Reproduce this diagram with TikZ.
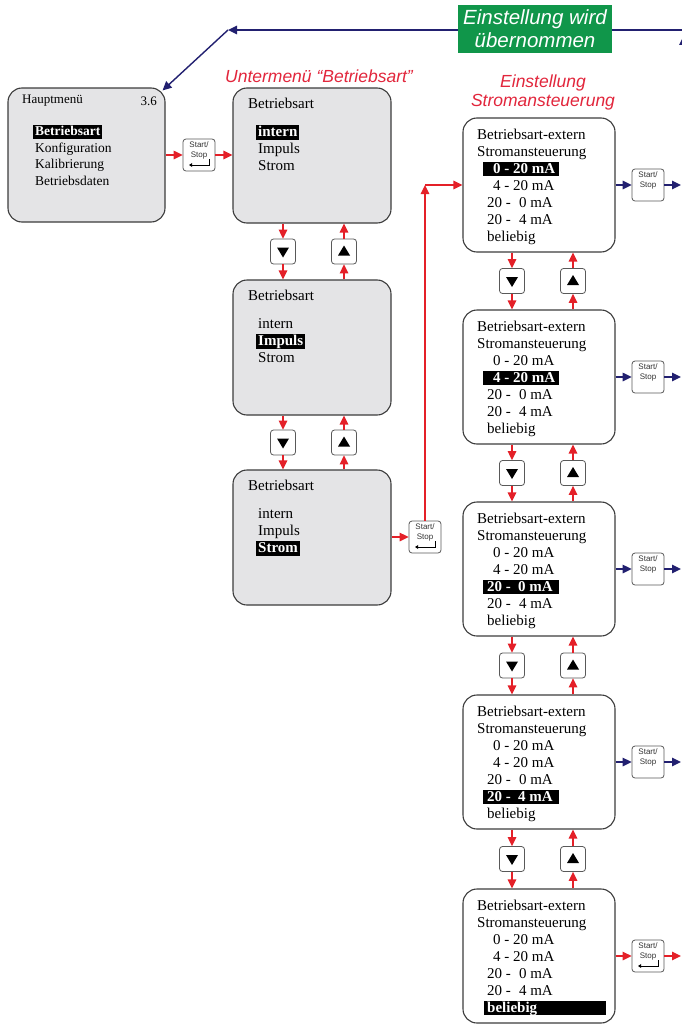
\documentclass[tikz,border=0pt]{standalone}
\usepackage{fontspec}
\setmainfont{Liberation Serif}
\setsansfont{Liberation Sans}
\usetikzlibrary{arrows.meta}

\definecolor{arrowred}{RGB}{228,32,40}
\definecolor{headred}{RGB}{226,38,60}
\definecolor{navyline}{RGB}{34,32,112}
\definecolor{bannergreen}{RGB}{16,150,74}
\definecolor{boxgray}{RGB}{228,228,230}
\definecolor{framegray}{RGB}{60,60,60}

\tikzset{
  menubox/.style={draw=framegray, line width=1.1pt, rounded corners=14pt,
    fill=boxgray, minimum width=158pt, minimum height=135pt, inner sep=0pt},
  setbox/.style={menubox, fill=white, minimum width=152pt, minimum height=134pt},
  basetxt/.style={anchor=west, inner sep=0pt},
  btxt/.style={basetxt, text height=11.5pt, text depth=3.5pt, font=\fontsize{15}{17}\selectfont},
  bsel/.style={btxt, fill=black, text=white, font=\fontsize{15}{17}\selectfont\bfseries, inner xsep=2pt},
  rsel/.style={btxt, text=white, font=\fontsize{15}{17}\selectfont\bfseries},
  hlbar/.style={fill=black, inner sep=0pt, minimum height=14.5pt},
  htxt/.style={basetxt, text height=10.5pt, text depth=3pt, font=\fontsize{13.5}{16}\selectfont},
  hsel/.style={htxt, fill=black, text=white, font=\fontsize{13.5}{16}\selectfont\bfseries, inner xsep=2pt},
  heading/.style={font=\sffamily\itshape\fontsize{17.5}{18.5}\selectfont, text=headred, align=center, inner sep=0pt},
  banner/.style={fill=bannergreen, text=white, font=\sffamily\itshape\fontsize{20.5}{23}\selectfont,
    align=center, minimum width=154pt, minimum height=48pt, inner sep=0pt},
  key/.style={draw=framegray!85, line width=0.8pt, rounded corners=3pt, fill=white,
    minimum width=32pt, minimum height=32pt, inner sep=0pt},
  keylabel/.style={font=\sffamily\fontsize{8}{10}\selectfont, text=black!80, align=center, inner sep=0pt},
  enterkey/.style={key, path picture={
      \draw[black, sharp corners, line width=0.9pt, -{Triangle[length=3.2pt,width=3.8pt]}]
        ([xshift=10pt,yshift=-4pt]path picture bounding box.center)
        -- ([xshift=10pt,yshift=-10pt]path picture bounding box.center)
        -- ([xshift=-10pt,yshift=-10pt]path picture bounding box.center);}},
  arrowkey/.style={key, minimum width=25pt, minimum height=25pt},
  downkey/.style={arrowkey, path picture={
      \fill[black, sharp corners] ([xshift=-6pt,yshift=4pt]path picture bounding box.center)
        -- ([xshift=6pt,yshift=4pt]path picture bounding box.center)
        -- ([yshift=-6pt]path picture bounding box.center) -- cycle;}},
  upkey/.style={arrowkey, path picture={
      \fill[black, sharp corners] ([xshift=-6pt,yshift=-4pt]path picture bounding box.center)
        -- ([xshift=6pt,yshift=-4pt]path picture bounding box.center)
        -- ([yshift=6pt]path picture bounding box.center) -- cycle;}},
  redarr/.style={draw=arrowred, line width=1.4pt, -{Triangle[length=9pt,width=8.5pt]}},
  navyarr/.style={draw=navyline, line width=1.4pt, -{Triangle[length=9pt,width=8.5pt]}},
}

\begin{document}
\begin{tikzpicture}[x=1pt, y=-1pt]
\path[use as bounding box, fill=white] (0,0) rectangle (681,1025);

% ---------- main menu ----------
\node[menubox, minimum width=157pt, minimum height=134pt] (h) at (86.5,155) {};
\node[basetxt, font=\fontsize{13}{15}\selectfont] (h-title) at (22,101) {Hauptmenü};
\node[basetxt, anchor=east, font=\fontsize{13}{15}\selectfont] (h-ver) at (157,101) {3.6};
\node[hsel] (h-a) at (33,132) {Betriebsart};
\node[htxt] (h-b) at (35,148.5) {Konfiguration};
\node[htxt] (h-c) at (35,165) {Kalibrierung};
\node[htxt] (h-d) at (35,181.5) {Betriebsdaten};

\node[enterkey] (s0) at (199,155) {};
\node[keylabel] (s0-l) at ([yshift=4.5pt]s0.center) {Start/\\Stop};

% ---------- submenu "Betriebsart" ----------
\node[heading] (head-b) at (319,76) {Untermenü “Betriebsart”};
\foreach \k/\ty in {1/88,2/280,3/470}{
  \tikzset{pick1/.style={btxt},pick2/.style={btxt},pick3/.style={btxt},
           pick\k/.style={bsel, xshift=-2pt}}
  \node[menubox] (b\k) at (312,\ty+67.5) {};
  \node[btxt] (b\k-head) at (248,\ty+16.5) {Betriebsart};
  \node[pick1] (b\k-a) at (258,\ty+44) {intern};
  \node[pick2] (b\k-b) at (258,\ty+61) {Impuls};
  \node[pick3] (b\k-c) at (258,\ty+78) {Strom};
}
\node[downkey] (d1) at (283,251.5) {};
\node[upkey]   (u1) at (344,251.5) {};
\node[downkey] (d2) at (283,442.5) {};
\node[upkey]   (u2) at (344,442.5) {};

\node[enterkey] (sb) at (425,537) {};
\node[keylabel] (sb-l) at ([yshift=4.5pt]sb.center) {Start/\\Stop};

% ---------- current control settings ----------
\node[heading] (head-r) at (543,92.5) {Einstellung\\Stromansteuerung};
\foreach \k/\ty in {1/118,2/310,3/502,4/695,5/889}{
  \tikzset{sel1/.style={btxt},sel2/.style={btxt},sel3/.style={btxt},
           sel4/.style={btxt},sel5/.style={btxt},sel\k/.style={rsel}}
  \node[setbox] (r\k) at (539,\ty+67) {};
  \ifnum\k<5
    \node[hlbar, minimum width=76pt] (r\k-bar) at (521,\ty+17*\k+34) {};
  \else
    \node[hlbar, minimum width=122pt] (r\k-bar) at (545,\ty+119) {};
  \fi
  \node[btxt] (r\k-a) at (477,\ty+17) {Betriebsart-extern};
  \node[btxt] (r\k-b) at (477,\ty+34) {Stromansteuerung};
  \node[sel1] (r\k-c) at (493,\ty+51) {0 - 20 mA};
  \node[sel2] (r\k-d) at (493,\ty+68) {4 - 20 mA};
  \node[sel3] (r\k-e) at (487,\ty+85) {20 -};
  \node[sel3, anchor=east] (r\k-e2) at (553,\ty+85) {0 mA};
  \node[sel4] (r\k-f) at (487,\ty+102) {20 -};
  \node[sel4, anchor=east] (r\k-f2) at (553,\ty+102) {4 mA};
  \node[sel5] (r\k-g) at (487,\ty+119) {beliebig};
}
\foreach \k/\y in {1/281,2/473,3/665.5,4/859}{
  \node[downkey] (rd\k) at (512,\y) {};
  \node[upkey]   (ru\k) at (573,\y) {};
}
\foreach \k in {1,2,3,4}{
  \node[key] (sr\k) at (648,0 |- r\k.center) {};
  \node[keylabel] (sr\k-l) at ([yshift=4.5pt]sr\k.center) {Start/\\Stop};
}
\node[enterkey] (sr5) at (648,0 |- r5.center) {};
\node[keylabel] (sr5-l) at ([yshift=4.5pt]sr5.center) {Start/\\Stop};

% ---------- connectors ----------
\coordinate (edge) at (681,0);
\coordinate (tr) at (690,30);
\coordinate (tl) at (228,30);
\coordinate (rup) at (683.5,70);
\coordinate (rtop) at (683.5,36);

\draw[navyarr] (tr) -- (tl);
\draw[navyarr] (tl) -- ([xshift=-3pt,yshift=-3pt]h.north east);
\draw[navyarr] (rup) -- (rtop);
\node[banner] (banner) at (535,29) {Einstellung wird\\übernommen};

\draw[redarr] (h.east |- s0) -- (s0.west);
\draw[redarr] (s0.east) -- (s0.east -| b1.west);

\foreach \a/\b/\m in {b1/b2/1, b2/b3/2}{
  \draw[redarr] (\a.south -| d\m) -- (d\m.north);
  \draw[redarr] (d\m.south) -- (d\m.south |- \b.north);
  \draw[redarr] (\b.north -| u\m) -- (u\m.south);
  \draw[redarr] (u\m.north) -- (u\m.north |- \a.south);
}

\draw[redarr] (b3.east |- sb) -- (sb.west);
\coordinate (corner) at (sb.north |- r1.west);
\draw[redarr] (sb.north) -- (corner);
\draw[redarr] (corner) -- (r1.west);

\foreach \a/\b/\m in {r1/r2/1, r2/r3/2, r3/r4/3, r4/r5/4}{
  \draw[redarr] (\a.south -| rd\m) -- (rd\m.north);
  \draw[redarr] (rd\m.south) -- (rd\m.south |- \b.north);
  \draw[redarr] (\b.north -| ru\m) -- (ru\m.south);
  \draw[redarr] (ru\m.north) -- (ru\m.north |- \a.south);
}

\foreach \k in {1,2,3,4}{
  \draw[navyarr] (r\k.east |- sr\k) -- (sr\k.west);
  \draw[navyarr] (sr\k.east) -- (sr\k.east -| edge);
}
\draw[redarr] (r5.east |- sr5) -- (sr5.west);
\draw[redarr] (sr5.east) -- (sr5.east -| edge);
\end{tikzpicture}
\end{document}
